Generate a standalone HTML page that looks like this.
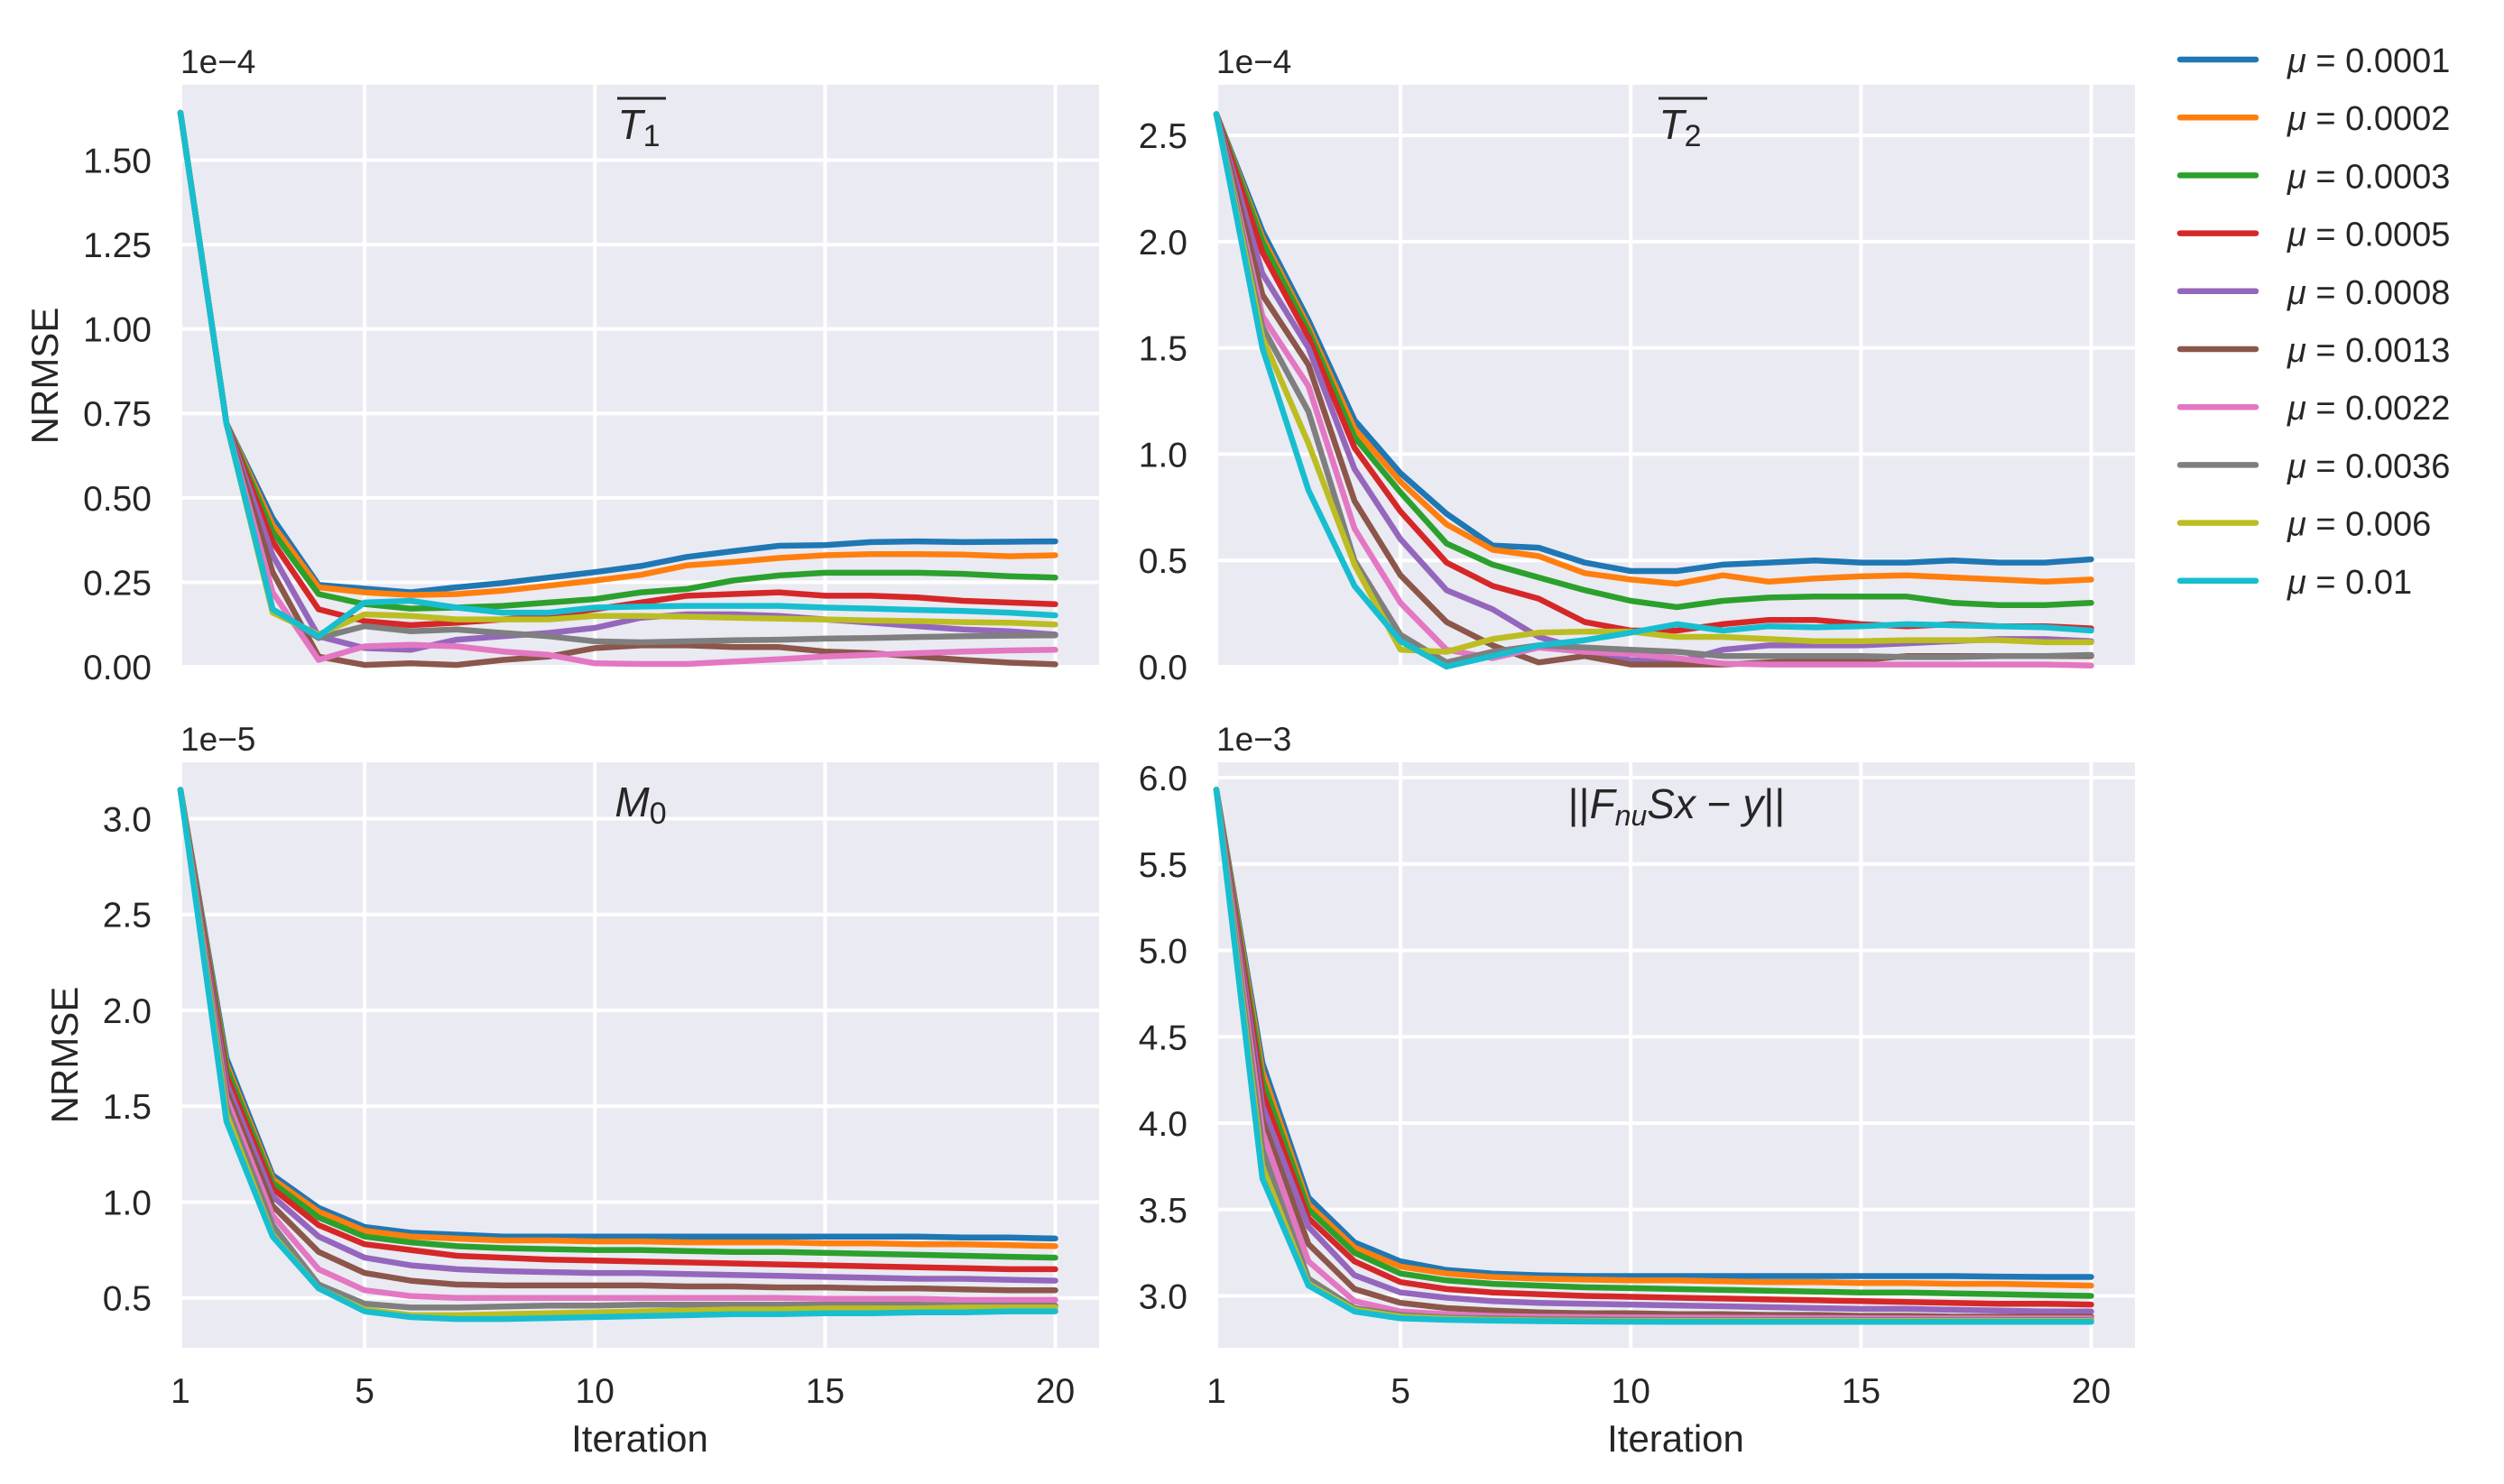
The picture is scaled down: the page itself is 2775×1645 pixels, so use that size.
<!DOCTYPE html>
<html><head><meta charset="utf-8">
<style>
html,body{margin:0;padding:0;background:#fff;}
svg{display:block;font-family:"Liberation Sans","DejaVu Sans",sans-serif;}
</style></head>
<body>
<svg id="fig" width="2775" height="1645" viewBox="0 0 2775 1645" xmlns="http://www.w3.org/2000/svg"></svg>
<script>
const iterations = [1,2,3,4,5,6,7,8,9,10,11,12,13,14,15,16,17,18,19,20];
const seriesLabels = ["μ = 0.0001","μ = 0.0002","μ = 0.0003","μ = 0.0005","μ = 0.0008","μ = 0.0013","μ = 0.0022","μ = 0.0036","μ = 0.006","μ = 0.01"];
const colors = ["#1f77b4","#ff7f0e","#2ca02c","#d62728","#9467bd","#8c564b","#e377c2","#7f7f7f","#bcbd22","#17becf"];

// T1 (x1e-4)
const t1Blue   = [1.64,0.72,0.44,0.242,0.231,0.22,0.235,0.248,0.264,0.28,0.298,0.325,0.342,0.358,0.36,0.369,0.371,0.369,0.37,0.371];
const t1Orange = [1.64,0.72,0.42,0.235,0.22,0.212,0.215,0.225,0.24,0.255,0.272,0.3,0.31,0.322,0.33,0.333,0.333,0.332,0.327,0.33];
const t1Green  = [1.64,0.72,0.40,0.215,0.185,0.172,0.175,0.18,0.19,0.2,0.22,0.23,0.255,0.27,0.278,0.278,0.278,0.275,0.268,0.264];
const t1Red    = [1.64,0.72,0.37,0.17,0.135,0.123,0.13,0.14,0.15,0.17,0.19,0.21,0.215,0.22,0.21,0.21,0.205,0.195,0.19,0.185];
const t1Purple = [1.64,0.72,0.33,0.09,0.055,0.05,0.08,0.09,0.1,0.115,0.145,0.155,0.155,0.15,0.14,0.13,0.12,0.11,0.105,0.095];
const t1Brown  = [1.64,0.72,0.28,0.03,0.005,0.01,0.005,0.02,0.03,0.055,0.063,0.063,0.058,0.058,0.045,0.04,0.03,0.02,0.012,0.007];
const t1Pink   = [1.64,0.72,0.22,0.02,0.06,0.065,0.06,0.045,0.035,0.01,0.008,0.008,0.015,0.022,0.03,0.035,0.04,0.045,0.048,0.05];
const t1Gray   = [1.64,0.72,0.17,0.085,0.12,0.105,0.11,0.1,0.09,0.075,0.072,0.075,0.078,0.08,0.083,0.085,0.088,0.09,0.092,0.093];
const t1Olive  = [1.64,0.72,0.16,0.095,0.155,0.15,0.14,0.14,0.14,0.15,0.15,0.148,0.145,0.142,0.14,0.137,0.135,0.132,0.13,0.125];
const t1Cyan   = [1.64,0.72,0.17,0.09,0.19,0.195,0.175,0.16,0.16,0.175,0.178,0.18,0.18,0.18,0.175,0.172,0.168,0.165,0.16,0.152];

// T2 (x1e-4)
const t2Blue   = [2.6,2.05,1.63,1.16,0.91,0.72,0.57,0.56,0.49,0.45,0.45,0.48,0.49,0.5,0.49,0.49,0.5,0.49,0.49,0.505];
const t2Orange = [2.6,2.02,1.6,1.12,0.87,0.67,0.55,0.52,0.44,0.41,0.39,0.43,0.4,0.415,0.425,0.43,0.42,0.41,0.4,0.41];
const t2Green  = [2.6,2.0,1.58,1.08,0.82,0.58,0.48,0.42,0.36,0.31,0.28,0.31,0.325,0.33,0.33,0.33,0.3,0.29,0.29,0.3];
const t2Red    = [2.6,1.95,1.55,1.03,0.73,0.49,0.38,0.32,0.21,0.17,0.17,0.2,0.22,0.22,0.2,0.19,0.2,0.19,0.19,0.18];
const t2Purple = [2.6,1.85,1.5,0.93,0.6,0.36,0.27,0.14,0.08,0.03,0.02,0.08,0.1,0.1,0.1,0.11,0.12,0.13,0.13,0.12];
const t2Brown  = [2.6,1.75,1.42,0.78,0.43,0.21,0.1,0.02,0.05,0.01,0.01,0.01,0.02,0.03,0.03,0.05,0.05,0.05,0.05,0.05];
const t2Pink   = [2.6,1.65,1.32,0.65,0.3,0.08,0.04,0.09,0.07,0.06,0.04,0.015,0.01,0.01,0.01,0.01,0.01,0.01,0.01,0.005];
const t2Gray   = [2.6,1.6,1.2,0.5,0.15,0.02,0.07,0.1,0.09,0.08,0.07,0.05,0.05,0.05,0.05,0.045,0.045,0.05,0.05,0.055];
const t2Olive  = [2.6,1.55,1.05,0.48,0.08,0.07,0.13,0.16,0.165,0.165,0.14,0.14,0.13,0.12,0.12,0.125,0.125,0.125,0.115,0.115];
const t2Cyan   = [2.6,1.5,0.83,0.38,0.12,0.0,0.05,0.1,0.125,0.16,0.2,0.17,0.19,0.185,0.19,0.2,0.195,0.19,0.185,0.17];

// M0 (x1e-5)
const m0Blue   = [3.15,1.75,1.14,0.97,0.87,0.84,0.83,0.82,0.82,0.82,0.82,0.82,0.82,0.82,0.82,0.82,0.82,0.815,0.815,0.81];
const m0Orange = [3.15,1.72,1.12,0.95,0.85,0.82,0.81,0.80,0.80,0.795,0.795,0.79,0.79,0.79,0.785,0.785,0.78,0.78,0.775,0.77];
const m0Green  = [3.15,1.70,1.10,0.92,0.82,0.79,0.77,0.76,0.755,0.75,0.75,0.745,0.74,0.74,0.735,0.73,0.725,0.72,0.715,0.71];
const m0Red    = [3.15,1.66,1.07,0.88,0.78,0.75,0.72,0.71,0.70,0.695,0.69,0.685,0.68,0.675,0.67,0.665,0.66,0.655,0.65,0.65];
const m0Purple = [3.15,1.62,1.03,0.82,0.71,0.67,0.65,0.64,0.635,0.63,0.63,0.625,0.62,0.615,0.61,0.605,0.60,0.60,0.595,0.59];
const m0Brown  = [3.15,1.58,0.98,0.74,0.63,0.59,0.57,0.565,0.565,0.565,0.565,0.56,0.56,0.555,0.555,0.55,0.55,0.545,0.54,0.54];
const m0Pink   = [3.15,1.54,0.93,0.65,0.54,0.51,0.50,0.50,0.50,0.50,0.50,0.50,0.50,0.50,0.495,0.495,0.495,0.49,0.49,0.49];
const m0Gray   = [3.15,1.50,0.88,0.57,0.47,0.45,0.45,0.455,0.46,0.46,0.465,0.465,0.465,0.465,0.465,0.465,0.465,0.46,0.46,0.46];
const m0Olive  = [3.15,1.46,0.83,0.55,0.44,0.41,0.41,0.415,0.42,0.425,0.43,0.435,0.44,0.44,0.445,0.445,0.445,0.45,0.45,0.45];
const m0Cyan   = [3.15,1.42,0.82,0.55,0.43,0.40,0.39,0.39,0.395,0.40,0.405,0.41,0.415,0.415,0.42,0.42,0.425,0.425,0.43,0.43];

// Residual (x1e-3)
const rBlue    = [5.93,4.35,3.57,3.31,3.20,3.15,3.13,3.12,3.115,3.115,3.115,3.115,3.115,3.115,3.115,3.115,3.115,3.112,3.11,3.11];
const rOrange  = [5.93,4.30,3.53,3.28,3.17,3.13,3.11,3.10,3.095,3.09,3.09,3.085,3.08,3.08,3.075,3.075,3.07,3.07,3.065,3.06];
const rGreen   = [5.93,4.25,3.50,3.25,3.13,3.09,3.07,3.06,3.05,3.045,3.04,3.035,3.03,3.025,3.02,3.02,3.015,3.01,3.005,3.0];
const rRed     = [5.93,4.18,3.45,3.20,3.08,3.04,3.02,3.01,3.0,2.995,2.99,2.985,2.98,2.975,2.97,2.965,2.96,2.955,2.955,2.95];
const rPurple  = [5.93,4.10,3.40,3.12,3.02,2.99,2.97,2.96,2.955,2.95,2.945,2.94,2.935,2.93,2.925,2.925,2.92,2.915,2.91,2.91];
const rBrown   = [5.93,4.02,3.30,3.04,2.96,2.93,2.915,2.905,2.90,2.90,2.895,2.895,2.89,2.89,2.885,2.885,2.88,2.88,2.88,2.88];
const rPink    = [5.93,3.95,3.20,2.97,2.91,2.895,2.885,2.88,2.878,2.876,2.875,2.874,2.873,2.872,2.871,2.87,2.87,2.87,2.87,2.87];
const rGray    = [5.93,3.85,3.10,2.93,2.89,2.875,2.87,2.866,2.864,2.862,2.861,2.86,2.86,2.86,2.86,2.86,2.86,2.86,2.86,2.86];
const rOlive   = [5.93,3.75,3.07,2.92,2.88,2.868,2.862,2.858,2.856,2.855,2.855,2.855,2.855,2.855,2.855,2.855,2.855,2.855,2.855,2.855];
const rCyan    = [5.93,3.68,3.06,2.91,2.87,2.862,2.857,2.854,2.852,2.851,2.85,2.85,2.85,2.85,2.85,2.85,2.85,2.85,2.85,2.85];

const t1Ticks = [0,0.25,0.5,0.75,1.0,1.25,1.5];
const t1TickLabels = ["0.00","0.25","0.50","0.75","1.00","1.25","1.50"];
const t2Ticks = [0,0.5,1.0,1.5,2.0,2.5];
const t2TickLabels = ["0.0","0.5","1.0","1.5","2.0","2.5"];
const m0Ticks = [0.5,1.0,1.5,2.0,2.5,3.0];
const m0TickLabels = ["0.5","1.0","1.5","2.0","2.5","3.0"];
const rTicks = [3.0,3.5,4.0,4.5,5.0,5.5,6.0];
const rTickLabels = ["3.0","3.5","4.0","4.5","5.0","5.5","6.0"];
const xTicks = [1,5,10,15,20];
const xTickLabels = ["1","5","10","15","20"];

const NS = "http://www.w3.org/2000/svg";
const fig = document.getElementById("fig");
function mk(tag, attrs, parent){
  const e = document.createElementNS(NS, tag);
  for (const k in attrs) e.setAttribute(k, attrs[k]);
  (parent||fig).appendChild(e);
  return e;
}

const panels = [
  {id:"t1", x0:200, x1:1218, y0:94, y1:739, ymin:0, ymax:1.723, ticks:t1Ticks, labels:t1TickLabels, scale:"1e−4",
   series:[t1Blue,t1Orange,t1Green,t1Red,t1Purple,t1Brown,t1Pink,t1Gray,t1Olive,t1Cyan], ylabel:true, xlabels:false},
  {id:"t2", x0:1348, x1:2366, y0:94, y1:739, ymin:0, ymax:2.738, ticks:t2Ticks, labels:t2TickLabels, scale:"1e−4",
   series:[t2Blue,t2Orange,t2Green,t2Red,t2Purple,t2Brown,t2Pink,t2Gray,t2Olive,t2Cyan], ylabel:false, xlabels:false},
  {id:"m0", x0:200, x1:1218, y0:845, y1:1494, ymin:0.24, ymax:3.294, ticks:m0Ticks, labels:m0TickLabels, scale:"1e−5",
   series:[m0Blue,m0Orange,m0Green,m0Red,m0Purple,m0Brown,m0Pink,m0Gray,m0Olive,m0Cyan], ylabel:true, xlabels:true},
  {id:"res", x0:1348, x1:2366, y0:845, y1:1494, ymin:2.70, ymax:6.089, ticks:rTicks, labels:rTickLabels, scale:"1e−3",
   series:[rBlue,rOrange,rGreen,rRed,rPurple,rBrown,rPink,rGray,rOlive,rCyan], ylabel:false, xlabels:true}
];

panels.forEach(p => {
  const g = mk("g", {});
  
  
  const xs = v => p.x0 + (v - 1) / (20.95 - 1) * (p.x1 - p.x0);
  const ys = v => p.y1 - (v - p.ymin) / (p.ymax - p.ymin) * (p.y1 - p.y0);
  const bg = mk("rect", {x:p.x0, y:p.y0, width:p.x1-p.x0, height:p.y1-p.y0, fill:"#eaeaf2"}, g);
  
  
  xTicks.forEach((t,i) => {
    const l = mk("line", {x1:xs(t), x2:xs(t), y1:p.y0, y2:p.y1, stroke:"#fff", "stroke-width":4}, g);
    
    
    if (p.xlabels) {
      const tx = mk("text", {x:xs(t), y:p.y1+61, "font-size":39, fill:"#262626", "text-anchor":"middle"}, g);
      tx.textContent = xTickLabels[i];
      
      
    }
  });
  p.ticks.forEach((t,i) => {
    const l = mk("line", {x1:p.x0, x2:p.x1, y1:ys(t), y2:ys(t), stroke:"#fff", "stroke-width":4}, g);
    
    
    const tx = mk("text", {x:p.x0-32, y:ys(t)+14, "font-size":39, fill:"#262626", "text-anchor":"end"}, g);
    tx.textContent = p.labels[i];
    
    
  });
  const sc = mk("text", {x:p.x0, y:p.y0-13, "font-size":37, fill:"#262626"}, g);
  sc.textContent = p.scale;
  
  
  p.series.forEach((s,si) => {
    const pts = s.map((v,i) => xs(iterations[i]).toFixed(1) + "," + ys(v).toFixed(1)).join(" ");
    const pl = mk("polyline", {points:pts, fill:"none", stroke:colors[si], "stroke-width":6.5, "stroke-linejoin":"round", "stroke-linecap":"round"}, g);
    
    
  });
  if (p.ylabel) {
    const cy = (p.y0 + p.y1) / 2;
    const cx = p.id === "t1" ? 64 : 86;
    const yl = mk("text", {x:cx, y:cy, "font-size":42, fill:"#262626", "text-anchor":"middle", transform:"rotate(-90 "+cx+" "+cy+")"}, g);
    yl.textContent = "NRMSE";
    
    
  }
  if (p.xlabels) {
    const xl = mk("text", {x:(p.x0+p.x1)/2, y:p.y1+115, "font-size":42, fill:"#262626", "text-anchor":"middle"}, g);
    xl.textContent = "Iteration";
    
    
  }
});

// Titles
function title(x, y, html, name){
  const t = mk("text", {x:x, y:y, "font-size":46, fill:"#262626", "text-anchor":"middle", "font-style":"italic"});
  t.innerHTML = html;
  
  
  return t;
}
title(708, 154, 'T<tspan font-style="normal" font-size="34" dy="8">1</tspan>', 't1-title');
mk("line", {x1:684, x2:738, y1:109, y2:109, stroke:"#262626", "stroke-width":3});
title(1862, 154, 'T<tspan font-style="normal" font-size="34" dy="8">2</tspan>', 't2-title');
mk("line", {x1:1838, x2:1892, y1:109, y2:109, stroke:"#262626", "stroke-width":3});
title(710, 905, 'M<tspan font-style="normal" font-size="34" dy="8">0</tspan>', 'm0-title');
title(1858, 907, '<tspan font-style="normal">||</tspan>F<tspan font-size="32" dy="8">nu</tspan><tspan dy="-8">Sx</tspan><tspan font-style="normal"> − </tspan>y<tspan font-style="normal">||</tspan>', 'residual-title');

// Legend
seriesLabels.forEach((lab,i) => {
  const cy = 66 + i*64.2;
  const l = mk("line", {x1:2416, x2:2500, y1:cy, y2:cy, stroke:colors[i], "stroke-width":6.5, "stroke-linecap":"round"});
  
  
  const t = mk("text", {x:2535, y:cy+14, "font-size":38, fill:"#262626"});
  t.innerHTML = '<tspan font-style="italic">μ</tspan>' + lab.slice(1);
  
  
});
</script>
</body></html>
